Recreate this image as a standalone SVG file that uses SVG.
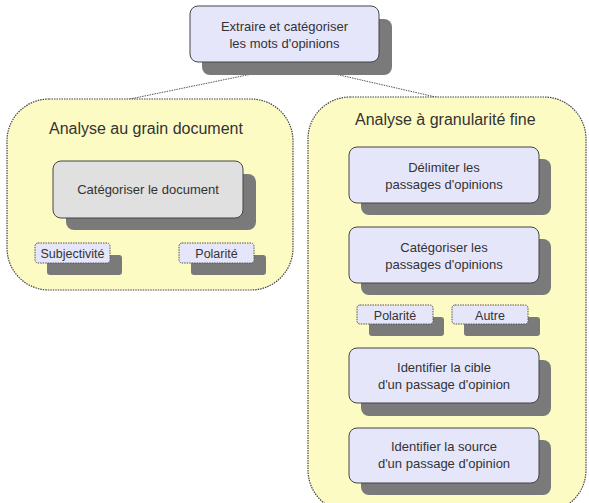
<svg xmlns="http://www.w3.org/2000/svg" width="589" height="503" viewBox="0 0 589 503">
<style>
text{font-family:"Liberation Sans",Arial,sans-serif;fill:#333;text-anchor:middle}
.t{font-size:13px}
.s{font-size:12.5px}
.h{font-size:16px;text-anchor:start}
.grp{fill:#fdfbc4;stroke:#444;stroke-width:1.2;stroke-dasharray:1.5 1}
.sh{fill:#7a7a7a}
.n{fill:#e6e6fa;stroke:#444;stroke-width:1}
.g{fill:#e0e0e0;stroke:#444;stroke-width:1}
.tag{fill:#e6e6fa;stroke:#555;stroke-width:1;stroke-dasharray:1.5 1}
.c{stroke:#555;stroke-width:1;stroke-dasharray:1.5 1;fill:none}
</style>
<g id="connectors">
<line class="c" x1="125" y1="100" x2="252" y2="74"/>
<line class="c" x1="335" y1="74" x2="440" y2="98"/>
<line class="c" x1="77" y1="243" x2="97" y2="229"/>
<line class="c" x1="215" y1="243" x2="197" y2="229"/>
<line class="c" x1="448" y1="215" x2="448" y2="227"/>
<line class="c" x1="402" y1="305" x2="408" y2="295"/>
<line class="c" x1="490" y1="305" x2="483" y2="295"/>
</g>
<g id="group-doc">
<rect class="grp" x="7" y="99" width="286" height="191" rx="42"/>
<text class="h" x="49" y="134">Analyse au grain document</text>
</g>
<g id="group-fine">
<rect class="grp" x="308" y="97" width="278" height="415" rx="42"/>
<text class="h" x="355" y="125">Analyse à granularité fine</text>
</g>
<g id="top">
<rect class="sh" x="202" y="19" width="190" height="56" rx="8"/>
<rect class="n" x="190" y="6" width="189" height="56" rx="8"/>
<text class="t" x="284.5" y="31">Extraire et catégoriser</text>
<text class="t" x="284.5" y="48">les mots d'opinions</text>
</g>
<g id="cat-doc">
<rect class="sh" x="66" y="174" width="190" height="56" rx="8"/>
<rect class="g" x="53" y="161" width="190" height="57" rx="8"/>
<text class="t" x="148" y="194">Catégoriser le document</text>
</g>
<g id="subjectivite">
<rect class="sh" x="47" y="255" width="75" height="20" rx="3"/>
<rect class="tag" x="35" y="243" width="75" height="20" rx="3"/>
<text class="s" x="72.5" y="258">Subjectivité</text>
</g>
<g id="polarite-doc">
<rect class="sh" x="191" y="255" width="75" height="20" rx="3"/>
<rect class="tag" x="179" y="243" width="75" height="20" rx="3"/>
<text class="s" x="216.5" y="258">Polarité</text>
</g>
<g id="delimiter">
<rect class="sh" x="361" y="159" width="190" height="56" rx="8"/>
<rect class="n" x="349" y="147" width="190" height="56" rx="8"/>
<text class="t" x="444" y="172">Délimiter  les</text>
<text class="t" x="444" y="189">passages d'opinions</text>
</g>
<g id="cat-passages">
<rect class="sh" x="361" y="239" width="190" height="56" rx="8"/>
<rect class="n" x="349" y="227" width="190" height="56" rx="8"/>
<text class="t" x="444" y="252">Catégoriser  les</text>
<text class="t" x="444" y="269">passages d'opinions</text>
</g>
<g id="polarite-fine">
<rect class="sh" x="369" y="317" width="75" height="19" rx="3"/>
<rect class="tag" x="357" y="305" width="76" height="19" rx="3"/>
<text class="s" x="395" y="319.5">Polarité</text>
</g>
<g id="autre">
<rect class="sh" x="464" y="317" width="76" height="19" rx="3"/>
<rect class="tag" x="452" y="305" width="76" height="19" rx="3"/>
<text class="s" x="490" y="319.5">Autre</text>
</g>
<g id="cible">
<rect class="sh" x="361" y="360" width="190" height="56" rx="8"/>
<rect class="n" x="349" y="348" width="190" height="55" rx="8"/>
<text class="t" x="444" y="372">Identifier la cible</text>
<text class="t" x="444" y="389">d'un passage d'opinion</text>
</g>
<g id="source">
<rect class="sh" x="361" y="440" width="190" height="55" rx="8"/>
<rect class="n" x="349" y="428" width="190" height="55" rx="8"/>
<text class="t" x="444" y="451">Identifier la source</text>
<text class="t" x="444" y="468">d'un passage d'opinion</text>
</g>
</svg>
